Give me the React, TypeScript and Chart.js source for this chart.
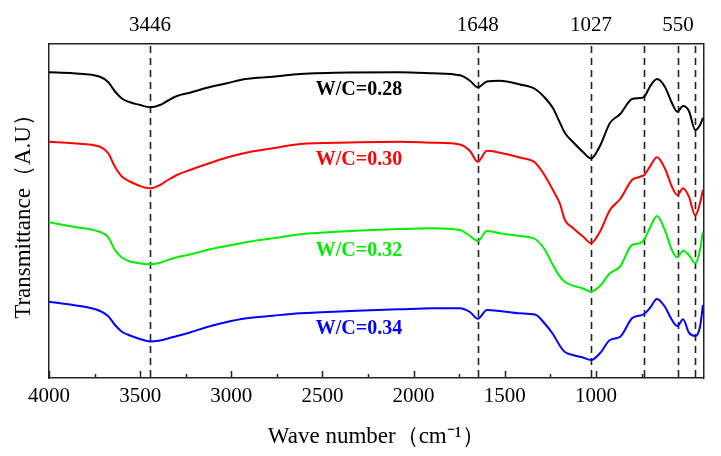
import { useEffect, useRef } from 'react';
import { Chart, registerables } from 'chart.js';

Chart.register(...registerables);

// wave numbers (cm-1) shared by all four spectra
const wavenumbers = [
  4000, 3868, 3720, 3676, 3638, 3600, 3556, 3501, 3446, 3391,
  3347, 3298, 3227, 3133, 3024, 2925, 2771, 2623, 2349, 2075,
  1894, 1746, 1691, 1648, 1598, 1526, 1417, 1334, 1279, 1236,
  1197, 1170, 1126, 1071, 1027, 978, 923, 867, 802, 758,
  735, 704, 665, 622, 583, 554, 522, 490, 455, 429, 413,
];

const wc028 = [
  305.7, 304.7, 301.3, 296, 286.5, 279.5, 275.7, 273, 270.7, 273,
  277.5, 282, 285.3, 290.3, 294.7, 299, 301.3, 304, 305.5, 305.7,
  304.7, 302.7, 297.3, 290.7, 296.5, 297.3, 293.5, 289, 280, 270,
  255, 245, 236, 226, 219.5, 232, 255, 264, 279, 280,
  281.3, 291.3, 299, 291.3, 275, 266.3, 272, 267, 248, 253, 260,
];

const wc030 = [
  236.3, 234.7, 231.3, 225, 211.3, 201.5, 196.5, 192, 189.7, 193,
  198, 203, 208, 214, 220.5, 225, 229.7, 234, 235.5, 236.3,
  235.3, 233.5, 227, 216.3, 227.3, 225.3, 220.5, 215.5, 202, 188,
  174, 158, 150, 141.5, 135, 146.3, 168, 179, 198, 201.3,
  203, 211.3, 220.7, 209.7, 191.3, 183, 189.7, 181.3, 162.5, 175, 188,
];

const wc032 = [
  155.7, 151.3, 146, 141, 128, 120.5, 116.5, 114.7, 113.7, 115.3,
  118, 120.7, 123.5, 128, 132, 135.5, 139.7, 143.7, 147, 149,
  149.7, 148, 142, 137, 147, 144.7, 142, 139, 128, 113,
  101.3, 96, 92.5, 89.5, 86.3, 92, 104.7, 111.5, 133, 134.7,
  138.7, 150, 162, 148, 128, 120.7, 127.3, 123, 114.7, 128, 146.3,
];

const wc034 = [
  76.3, 73, 67, 62, 53, 46.3, 42.5, 39, 36.5, 37.5,
  39.5, 42, 45.5, 51, 56, 59.5, 62.3, 64.7, 67, 68.7,
  69.7, 69.7, 66, 59.3, 68, 67, 64.7, 63.5, 54, 44,
  32, 26, 23, 20.5, 18, 24.7, 38, 41.3, 59.7, 62.5,
  64, 70, 79, 71.3, 58, 52, 58.7, 45.3, 42, 51.3, 73,
];

const seriesNames = ['W/C=0.28', 'W/C=0.30', 'W/C=0.32', 'W/C=0.34'];
const seriesColors = ['#000000', '#ff0000', '#00ee00', '#0000ff'];
const seriesValues = [wc028, wc030, wc032, wc034];

// dashed marker lines and their labels above the frame
const markerValues = [3446, 1648, 1027, 735, 550, 455];
const markerLabels = ['3446', '1648', '1027', '', '550', ''];

// where the W/C tags sit (wave number, level)
const tagWavenumber = 2300;
const tagLevels = [288, 218, 127, 49];

const FONT = "'Liberation Serif', 'Times New Roman', serif";

const decorations = {
  id: 'decorations',
  beforeDatasetsDraw(chart: any) {
    const { ctx, chartArea, scales } = chart;
    const x = scales.x;
    ctx.save();
    ctx.strokeStyle = '#222';
    ctx.lineWidth = 1.6;
    ctx.setLineDash([7, 5]);
    markerValues.forEach((v) => {
      const px = Math.round(x.getPixelForValue(v)) + 0.5;
      ctx.beginPath();
      ctx.moveTo(px, chartArea.top + 2);
      ctx.lineTo(px, chartArea.bottom);
      ctx.stroke();
    });
    ctx.restore();
  },
  afterDatasetsDraw(chart: any) {
    const { ctx, chartArea, scales } = chart;
    const x = scales.x;
    const y = scales.y;
    ctx.save();
    // inward ticks on the bottom axis
    ctx.strokeStyle = '#222';
    ctx.lineWidth = 1.5;
    x.ticks.forEach((t: any) => {
      if (t.value % 250 !== 0) return;
      const len = t.value % 500 === 0 ? 7 : 4;
      const px = Math.round(x.getPixelForValue(t.value)) + 0.5;
      ctx.beginPath();
      ctx.moveTo(px, chartArea.bottom);
      ctx.lineTo(px, chartArea.bottom - len);
      ctx.stroke();
    });
    // series tags
    ctx.font = `bold 20px ${FONT}`;
    ctx.textAlign = 'center';
    ctx.textBaseline = 'middle';
    seriesNames.forEach((name, i) => {
      ctx.fillStyle = seriesColors[i];
      ctx.fillText(name, x.getPixelForValue(tagWavenumber), y.getPixelForValue(tagLevels[i]));
    });
    ctx.restore();
  },
};

export default function App() {
  const canvasRef = useRef<HTMLCanvasElement>(null);
  const chartRef = useRef<Chart | null>(null);

  useEffect(() => {
    document.body.style.margin = '0';
    if (!canvasRef.current) return;
    if (chartRef.current) chartRef.current.destroy();

    const ctx = canvasRef.current.getContext('2d');
    if (!ctx) return;

    chartRef.current = new Chart(ctx, {
      type: 'line',
      data: {
        datasets: seriesValues.map((vals, i) => ({
          label: seriesNames[i],
          data: wavenumbers.map((w, j) => ({ x: w, y: vals[j] })),
          borderColor: seriesColors[i],
          borderWidth: 2,
          pointRadius: 0,
          fill: false,
          cubicInterpolationMode: 'monotone',
        })),
      },
      options: {
        animation: false,
        responsive: true,
        maintainAspectRatio: false,
        layout: { padding: 0 },
        plugins: {
          legend: { display: false },
          tooltip: { enabled: false },
        },
        scales: {
          x: {
            type: 'linear',
            position: 'bottom',
            reverse: true,
            min: 410,
            max: 4000,
            afterFit: (s: any) => { s.height = 78; },
            grid: { display: false, drawTicks: false },
            border: { display: true, color: '#222', width: 1.5 },
            ticks: {
              stepSize: 250,
              autoSkip: false,
              maxRotation: 0,
              padding: 6,
              color: '#000',
              font: { family: FONT, size: 21 },
              callback: (v: any) => (Number(v) % 500 === 0 ? String(v) : ''),
            },
            title: {
              display: true,
              text: 'Wave number（cm⁻¹）',
              color: '#000',
              font: { family: FONT, size: 23 },
              padding: { top: 0, bottom: 5 },
            },
          },
          xTop: {
            type: 'linear',
            position: 'top',
            reverse: true,
            min: 410,
            max: 4000,
            afterFit: (s: any) => { s.height = 44; },
            afterBuildTicks: (s: any) => {
              s.ticks = markerValues.map((value) => ({ value }));
            },
            grid: { display: false, drawTicks: false },
            border: { display: true, color: '#222', width: 1.5 },
            ticks: {
              autoSkip: false,
              maxRotation: 0,
              padding: 6,
              color: '#000',
              font: { family: FONT, size: 21 },
              callback: (_v: any, i: number) => markerLabels[i],
            },
          },
          y: {
            type: 'linear',
            position: 'left',
            min: 0,
            max: 334,
            afterFit: (s: any) => { s.width = 49; },
            grid: { display: false, drawTicks: false },
            border: { display: true, color: '#222', width: 1.5 },
            ticks: { display: false },
            title: {
              display: true,
              text: 'Transmittance（A.U）',
              color: '#000',
              font: { family: FONT, size: 23 },
              padding: { top: 10, bottom: 0 },
            },
          },
          yRight: {
            type: 'linear',
            position: 'right',
            min: 0,
            max: 334,
            afterFit: (s: any) => { s.width = 17.5; },
            grid: { display: false, drawTicks: false },
            border: { display: true, color: '#222', width: 1.5 },
            ticks: { display: false },
          },
        },
      },
      plugins: [decorations],
    });

    return () => {
      if (chartRef.current) chartRef.current.destroy();
      chartRef.current = null;
    };
  }, []);

  return (
    <div style={{ position: 'relative', width: 721, height: 456 }}>
      <canvas ref={canvasRef} />
    </div>
  );
}
